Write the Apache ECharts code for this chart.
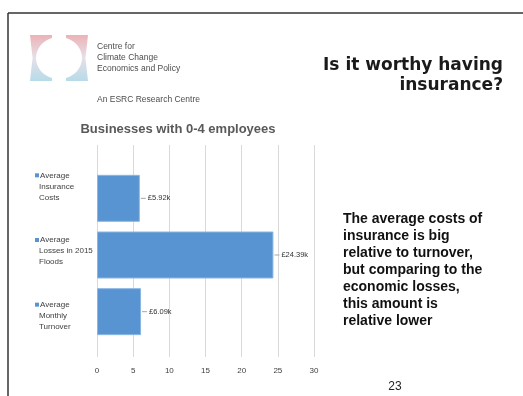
<!DOCTYPE html>
<html>
<head>
<meta charset="utf-8">
<script src="https://cdn.jsdelivr.net/npm/echarts@6/dist/echarts.min.js"></script>
<style>
  html, body { margin: 0; padding: 0; background: #fff; }
  #chart { width: 523px; height: 396px; }
</style>
</head>
<body>
<div id="chart"></div>
<script>
// Cost comparison for businesses with 0-4 employees (values in £ thousands)
const categories = [
  'Average\nInsurance\nCosts',
  'Average\nLosses in 2015\nFloods',
  'Average\nMonthly\nTurnover'
];
const values = [5.92, 24.39, 6.09];
const valueLabels = ['£5.92k', '£24.39k', '£6.09k'];
const axisTicks = [0, 5, 10, 15, 20, 25, 30];

const chartTitle = 'Businesses with 0-4 employees';
const slideTitle = 'Is it worthy having\ninsurance?';
const noteText = 'The average costs of\ninsurance is big\nrelative to turnover,\nbut comparing to the\neconomic losses,\nthis amount is\nrelative lower';
const orgLines = 'Centre for\nClimate Change\nEconomics and Policy';
const orgSub = 'An ESRC Research Centre';
const pageNo = '23';

const BAR = '#5894d2';
const SANS = '"Liberation Sans", Arial, sans-serif';

const chart = echarts.init(document.getElementById('chart'), null, { renderer: 'canvas' });

// Logo: two bracket shapes around an elliptical opening
const logoFill = {
  type: 'linear', x: 0, y: 0, x2: 0, y2: 1,
  colorStops: [
    { offset: 0, color: '#ebb3b6' },
    { offset: 0.5, color: '#e6e0e8' },
    { offset: 1, color: '#b7dbe9' }
  ]
};
function bracketPoints(mirror) {
  const cx = 59, cy = 58, rx = 23, ry = 21;
  const pts = [[30, 35], [52, 35]];
  const a0 = Math.acos(-7 / rx);               // where the opening meets the inner edge
  const steps = 16;
  for (let i = 0; i <= steps; i++) {
    const a = (2 * Math.PI - a0) - (2 * Math.PI - 2 * a0) * i / steps;
    pts.push([cx + rx * Math.cos(a), cy + ry * Math.sin(a)]);
  }
  pts.push([52, 81], [30, 81], [31.2, 70], [32.6, 58], [31.2, 46]);
  return mirror ? pts.map(function (p) { return [118 - p[0], p[1]]; }) : pts;
}

const labelRich = {
  sq: { width: 4, height: 4, backgroundColor: BAR },
  t: { fontSize: 8, color: '#404040', padding: [0, 0, 0, 1], fontFamily: SANS },
  t2: { fontSize: 8, color: '#404040', padding: [0, 0, 0, 4], fontFamily: SANS }
};

chart.setOption({
  animation: false,
  backgroundColor: '#ffffff',
  grid: [
    // bars
    { left: 97, right: 209, top: 170, height: 170, outerBoundsMode: 'none', containLabel: false },
    // gridlines and tick labels
    { left: 97, right: 209, top: 145, bottom: 39, outerBoundsMode: 'none', containLabel: false },
    // category labels
    { left: 97, right: 209, top: 154, height: 194, outerBoundsMode: 'none', containLabel: false }
  ],
  xAxis: [
    { gridIndex: 0, type: 'value', min: axisTicks[0], max: axisTicks[axisTicks.length - 1], interval: 5, show: false },
    {
      gridIndex: 1, type: 'value',
      min: axisTicks[0], max: axisTicks[axisTicks.length - 1], interval: 5,
      axisLine: { show: false }, axisTick: { show: false },
      splitLine: { show: true, lineStyle: { color: '#d9d9d9', width: 1 } },
      axisLabel: { margin: 10, fontSize: 8, color: '#404040', fontFamily: SANS }
    },
    { gridIndex: 2, type: 'value', min: 0, max: 30, show: false }
  ],
  yAxis: [
    {
      gridIndex: 0, type: 'category', data: categories, inverse: true,
      axisLine: { show: false }, axisTick: { show: false }, axisLabel: { show: false }
    },
    { gridIndex: 1, type: 'value', show: false },
    {
      gridIndex: 2, type: 'category', data: categories, inverse: true,
      axisLine: { show: false }, axisTick: { show: false }, splitLine: { show: false },
      axisLabel: {
        align: 'left', margin: 62, lineHeight: 11, fontSize: 8,
        color: '#404040', fontFamily: SANS,
        formatter: function (v) {
          return v.split('\n').map(function (line, i) {
            return i === 0 ? '{sq|}{t|' + line + '}' : '{t2|' + line + '}';
          }).join('\n');
        },
        rich: labelRich
      }
    }
  ],
  series: [{
    type: 'bar',
    xAxisIndex: 0, yAxisIndex: 0,
    data: values,
    barWidth: 47,
    itemStyle: { color: BAR, borderColor: '#8ab6e2', borderWidth: 1 },
    label: {
      show: true, position: 'right', distance: 1,
      formatter: function (p) { return '{l|}{v|' + valueLabels[p.dataIndex] + '}'; },
      rich: {
        l: { width: 5, height: 1, backgroundColor: '#a6a6a6' },
        v: { fontSize: 7.5, color: '#333', padding: [0, 0, 0, 2], fontFamily: SANS }
      }
    }
  }],
  graphic: [
    // slide frame
    { type: 'line', shape: { x1: 8, y1: 13, x2: 523, y2: 13 }, style: { stroke: '#333', lineWidth: 1.5 } },
    { type: 'line', shape: { x1: 8, y1: 13, x2: 8, y2: 396 }, style: { stroke: '#333', lineWidth: 1.5 } },
    // logo
    { type: 'polygon', shape: { points: bracketPoints(false) }, style: { fill: logoFill } },
    { type: 'polygon', shape: { points: bracketPoints(true) }, style: { fill: logoFill } },
    {
      type: 'text', left: 97, top: 41,
      style: { text: orgLines, font: '8.5px ' + SANS, fill: '#4d4d4d', lineHeight: 11 }
    },
    {
      type: 'text', left: 97, top: 95,
      style: { text: orgSub, font: '8.5px ' + SANS, fill: '#4d4d4d' }
    },
    // slide heading
    {
      type: 'text', x: 503, y: 56,
      style: { text: slideTitle, font: 'bold 17px "DejaVu Sans", sans-serif', fill: '#1a1a1a', align: 'right', verticalAlign: 'top', lineHeight: 20 }
    },
    // chart heading
    {
      type: 'text', x: 178, y: 129,
      style: { text: chartTitle, font: 'bold 13px ' + SANS, fill: '#595959', align: 'center', verticalAlign: 'middle' }
    },
    // commentary
    {
      type: 'text', left: 343, top: 211,
      style: { text: noteText, font: 'bold 14px ' + SANS, fill: '#111', lineHeight: 17 }
    },
    // page number
    {
      type: 'text', x: 395, y: 387,
      style: { text: pageNo, font: '12px ' + SANS, fill: '#222', align: 'center', verticalAlign: 'middle' }
    }
  ]
});
</script>
</body>
</html>
